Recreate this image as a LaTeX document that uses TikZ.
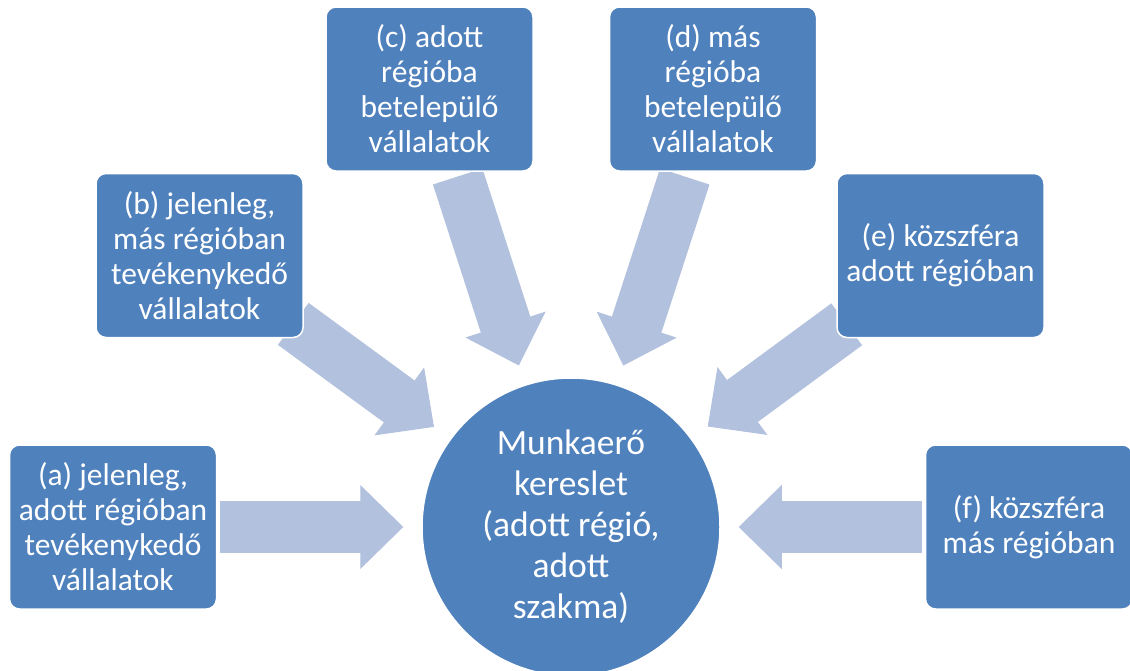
\documentclass[tikz,border=0pt]{standalone}
\usepackage{fontspec}
\setmainfont{Carlito}
\usetikzlibrary{positioning,arrows.meta,backgrounds}

\definecolor{dobozkek}{RGB}{79,129,189}
\definecolor{nyilkek}{RGB}{178,193,221}

\tikzset{
  doboz/.style={rectangle, rounded corners=10pt, fill=dobozkek, draw=white,
    line width=1.5pt, minimum width=207pt, minimum height=164pt, inner sep=0pt,
    align=center, text=white, font=\fontsize{31.5}{35}\selectfont},
  kor/.style={circle, fill=dobozkek, draw=white, line width=1.5pt,
    minimum size=298pt, inner sep=0pt, align=center, text=white,
    font=\fontsize{35.5}{41}\selectfont},
  nyil/.style={draw=nyilkek, line width=52pt,
    -{Triangle[width=84pt,length=43pt,line width=1pt]}},
}

\begin{document}
\begin{tikzpicture}[x=1pt, y=-1pt]
  \useasboundingbox (0,0) rectangle (1130,670);

  \node[kor] (kereslet) at (571,527) {Munkaerő\\kereslet\\(adott régió,\\adott\\szakma)};
  \node[doboz, left=204pt of kereslet] (a) {(a) jelenleg,\\adott régióban\\tevékenykedő\\vállalatok};
  \node[doboz] (b) at (199.5,255.5) {(b) jelenleg,\\más régióban\\tevékenykedő\\vállalatok};
  \node[doboz] (c) at (429.5,89) {(c) adott\\régióba\\betelepülő\\vállalatok};
  \node[doboz, right=75pt of c] (d) {(d) más\\régióba\\betelepülő\\vállalatok};
  \node[doboz] (e) at (940.5,255.5) {(e) közszféra\\adott régióban};
  \node[doboz, right=204pt of kereslet] (f) {(f) közszféra\\más régióban};

  % nyilak a kor fele, a dobozok moge
  \begin{scope}[on background layer]
    \draw[nyil, shorten <=3pt, shorten >=18pt] (a) -- (kereslet);
    \draw[nyil, shorten <=-13pt, shorten >=20pt] (b) -- (kereslet);
    \draw[nyil, shorten <=5pt, shorten >=20pt] (c) -- (kereslet);
    \draw[nyil, shorten <=5pt, shorten >=20pt] (d) -- (kereslet);
    \draw[nyil, shorten <=-13pt, shorten >=20pt] (e) -- (kereslet);
    \draw[nyil, shorten <=3pt, shorten >=18pt] (f) -- (kereslet);
  \end{scope}
\end{tikzpicture}
\end{document}
